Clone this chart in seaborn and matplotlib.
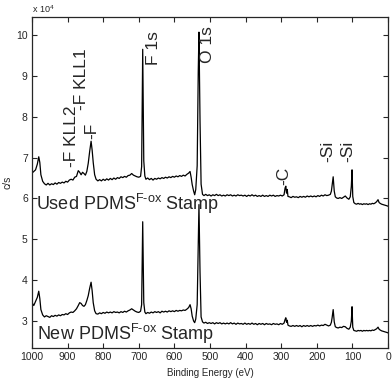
import pandas as pd
import matplotlib
matplotlib.use("Agg")
import matplotlib.pyplot as plt
import seaborn as sns

# binding energy grid (eV), shared by both spectra
binding_energy = [
    1000, 995, 990, 985, 981, 978, 975, 970, 965, 960,
    955, 950, 945, 940, 935, 930, 925, 920, 915, 910,
    905, 900, 895, 890, 885, 880, 875, 870, 866, 862,
    858, 854, 850, 846, 842, 838, 834, 831, 828, 824,
    820, 815, 810, 805, 800, 795, 790, 785, 780, 775,
    770, 765, 760, 755, 750, 745, 740, 735, 730, 725,
    720, 715, 710, 705, 700, 695, 692, 689, 686, 683,
    680, 675, 670, 665, 660, 655, 650, 645, 640, 635,
    630, 625, 620, 615, 610, 605, 600, 595, 590, 585,
    580, 575, 570, 565, 560, 556, 553, 550, 546, 543,
    540, 536, 533, 531, 528, 525, 521, 517, 512, 507,
    502, 497, 492, 487, 482, 477, 472, 467, 462, 457,
    452, 447, 442, 437, 432, 427, 422, 417, 412, 407,
    402, 397, 392, 387, 382, 377, 372, 367, 362, 357,
    352, 347, 342, 337, 332, 327, 322, 317, 312, 307,
    302, 297, 292, 289, 287, 285, 283, 281, 277, 272,
    267, 262, 257, 252, 247, 242, 237, 232, 227, 222,
    217, 212, 207, 202, 197, 192, 187, 182, 177, 172,
    167, 162, 159, 157, 154, 151, 148, 144, 140, 135,
    130, 125, 120, 115, 110, 106, 103, 101, 99, 96,
    92, 88, 84, 80, 76, 72, 68, 64, 60, 56,
    52, 48, 44, 40, 36, 32, 28, 25, 22, 18,
    14, 10, 6, 3, 0,
]

# counts per second, in units of 1e4
used_cps = [
    6.62, 6.66, 6.70, 6.84, 7.02, 6.88, 6.58, 6.42, 6.36, 6.33,
    6.37, 6.33, 6.36, 6.34, 6.38, 6.35, 6.39, 6.37, 6.40, 6.38,
    6.42, 6.40, 6.45, 6.47, 6.45, 6.52, 6.54, 6.68, 6.64, 6.58,
    6.64, 6.61, 6.57, 6.66, 6.86, 7.15, 7.40, 7.18, 6.88, 6.58,
    6.47, 6.43, 6.46, 6.43, 6.47, 6.44, 6.48, 6.45, 6.49, 6.46,
    6.50, 6.47, 6.51, 6.49, 6.53, 6.51, 6.54, 6.52, 6.56, 6.57,
    6.61, 6.57, 6.55, 6.53, 6.52, 6.54, 6.78, 9.65, 6.92, 6.55,
    6.47, 6.50, 6.46, 6.49, 6.45, 6.49, 6.47, 6.50, 6.48, 6.51,
    6.49, 6.52, 6.50, 6.53, 6.51, 6.54, 6.52, 6.55, 6.53, 6.56,
    6.54, 6.57, 6.55, 6.59, 6.62, 6.66, 6.52, 6.34, 6.18, 6.09,
    6.22, 6.80, 9.10, 10.07, 7.90, 6.35, 6.10, 6.07, 6.10, 6.07,
    6.09, 6.06, 6.09, 6.07, 6.10, 6.07, 6.09, 6.06, 6.08, 6.06,
    6.09, 6.07, 6.09, 6.06, 6.08, 6.06, 6.09, 6.07, 6.08, 6.06,
    6.08, 6.05, 6.08, 6.06, 6.09, 6.06, 6.08, 6.05, 6.07, 6.05,
    6.08, 6.05, 6.07, 6.05, 6.08, 6.06, 6.08, 6.05, 6.07, 6.06,
    6.08, 6.06, 6.09, 6.26, 6.30, 6.13, 6.22, 6.05, 6.04, 6.02,
    6.05, 6.03, 6.04, 6.02, 6.05, 6.03, 6.05, 6.03, 6.06, 6.04,
    6.06, 6.04, 6.06, 6.04, 6.07, 6.05, 6.08, 6.06, 6.09, 6.07,
    6.08, 6.10, 6.18, 6.32, 6.53, 6.18, 6.04, 6.01, 6.00, 6.02,
    6.00, 6.03, 6.06, 6.01, 5.98, 6.04, 6.30, 6.70, 6.05, 5.90,
    5.87, 5.86, 5.88, 5.86, 5.87, 5.85, 5.87, 5.86, 5.87, 5.85,
    5.87, 5.86, 5.88, 5.87, 5.89, 5.92, 5.97, 5.90, 5.88, 5.86,
    5.85, 5.84, 5.83, 5.82, 5.81,
]

new_cps = [
    3.45, 3.38, 3.48, 3.58, 3.73, 3.55, 3.28, 3.15, 3.10, 3.13,
    3.11, 3.09, 3.13, 3.11, 3.14, 3.12, 3.15, 3.13, 3.16, 3.15,
    3.18, 3.16, 3.20, 3.22, 3.21, 3.25, 3.30, 3.38, 3.45, 3.43,
    3.38, 3.36, 3.40, 3.50, 3.62, 3.80, 3.95, 3.74, 3.45, 3.25,
    3.18, 3.17, 3.20, 3.18, 3.21, 3.19, 3.22, 3.20, 3.22, 3.20,
    3.23, 3.21, 3.22, 3.20, 3.23, 3.21, 3.24, 3.22, 3.25, 3.27,
    3.30, 3.27, 3.24, 3.22, 3.21, 3.24, 3.40, 5.43, 3.45, 3.22,
    3.18, 3.21, 3.19, 3.22, 3.20, 3.23, 3.21, 3.23, 3.20, 3.24,
    3.22, 3.24, 3.22, 3.25, 3.23, 3.25, 3.23, 3.26, 3.24, 3.26,
    3.25, 3.27, 3.26, 3.29, 3.33, 3.40, 3.30, 3.12, 3.00, 2.96,
    3.05, 3.40, 4.80, 5.85, 4.20, 3.10, 2.98, 2.95, 2.97, 2.94,
    2.96, 2.94, 2.96, 2.93, 2.96, 2.94, 2.96, 2.93, 2.95, 2.93,
    2.95, 2.93, 2.96, 2.93, 2.95, 2.92, 2.95, 2.93, 2.94, 2.92,
    2.95, 2.92, 2.94, 2.92, 2.95, 2.92, 2.94, 2.91, 2.94, 2.92,
    2.94, 2.91, 2.94, 2.92, 2.93, 2.91, 2.94, 2.92, 2.93, 2.91,
    2.94, 2.92, 2.95, 3.04, 3.08, 2.97, 3.02, 2.90, 2.88, 2.87,
    2.89, 2.87, 2.89, 2.87, 2.89, 2.86, 2.89, 2.87, 2.89, 2.87,
    2.89, 2.87, 2.89, 2.88, 2.90, 2.88, 2.90, 2.89, 2.92, 2.90,
    2.88, 2.90, 2.97, 3.08, 3.28, 2.98, 2.86, 2.84, 2.83, 2.85,
    2.84, 2.87, 2.86, 2.82, 2.80, 2.85, 3.00, 3.35, 2.85, 2.77,
    2.76, 2.75, 2.77, 2.76, 2.77, 2.75, 2.77, 2.76, 2.77, 2.76,
    2.77, 2.76, 2.78, 2.77, 2.79, 2.81, 2.85, 2.80, 2.78, 2.76,
    2.75, 2.74, 2.73, 2.72, 2.71,
]

# peak labels: text, energy (eV), bottom of label (x 1e4 c/s)
peak_labels = ["-F KLL2", "-F KLL1", "-F", "F 1s", "O 1s", "-C", "-Si", "-Si"]
peak_label_ev = [888, 862, 831, 660, 506, 292, 168, 112]
peak_label_y = [6.77, 8.17, 7.45, 9.27, 9.32, 6.33, 6.90, 6.90]

assert len(binding_energy) == len(used_cps) == len(new_cps)

sns.set_style("ticks")
plt.rcParams["font.family"] = ["Liberation Sans", "DejaVu Sans"]
plt.rcParams["mathtext.fontset"] = "custom"
plt.rcParams["mathtext.rm"] = "Liberation Sans"
plt.rcParams["mathtext.it"] = "Liberation Sans:italic"

df = pd.DataFrame({
    "ev": binding_energy * 2,
    "cps": used_cps + new_cps,
    "sample": ["used"] * len(used_cps) + ["new"] * len(new_cps),
})

fig = plt.figure(figsize=(3.92, 3.80), dpi=100)
ax = fig.add_axes([0.0816, 0.0842, 0.9082, 0.8710])

sns.lineplot(data=df, x="ev", y="cps", units="sample", estimator=None,
             sort=False, color="black", linewidth=0.9, ax=ax)

ax.set_xlim(1000, 0)
ax.set_ylim(2.34, 10.44)
ax.set_xticks(range(0, 1001, 100))
ax.set_yticks(range(3, 11))
ax.tick_params(direction="in", length=3.5, width=0.8, labelsize=7.5,
               top=True, right=True, pad=3)
for s in ax.spines.values():
    s.set_linewidth(0.9)

ax.set_xlabel("Binding Energy (eV)", fontsize=7, labelpad=4)
ax.set_ylabel("c/s", fontsize=7.5, labelpad=3)
# multiplier shown above the y axis
fig.text(0.082, 0.975, r"x 10$^4$", fontsize=6.5, ha="left", va="center")

for lab, xe, ye in zip(peak_labels, peak_label_ev, peak_label_y):
    ax.text(xe, ye, lab, rotation=90, ha="center", va="bottom", fontsize=12.5)

ax.text(989, 5.72, r"Used PDMS$^{\mathrm{F\text{-}ox}}$ Stamp", fontsize=13,
        ha="left", va="baseline")
ax.text(986, 2.54, r"New PDMS$^{\mathrm{F\text{-}ox}}$ Stamp", fontsize=13,
        ha="left", va="baseline")

fig.savefig("out.png", dpi=100)
